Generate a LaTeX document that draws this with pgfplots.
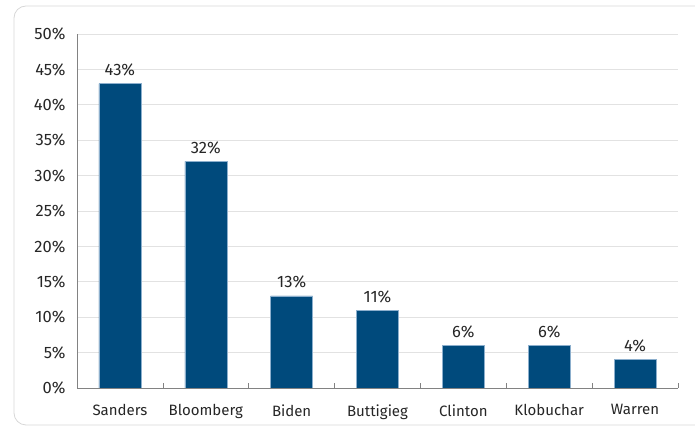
\documentclass[border=0pt]{standalone}
\usepackage{pgfplots}
\pgfplotsset{compat=1.18}
\usepackage{fontspec}
\setmainfont{Fira Sans}
\definecolor{barblue}{RGB}{0,74,124}
\definecolor{baredge}{RGB}{140,175,205}
\definecolor{gridgray}{RGB}{226,226,226}
\definecolor{axisgray}{RGB}{130,130,130}
\definecolor{framegray}{RGB}{215,215,215}
\begin{document}
\begin{tikzpicture}[x=1pt,y=1pt]
\useasboundingbox (0,0) rectangle (695,427);
\begin{scope}
\clip (0,0) rectangle (695,427);
\draw[framegray, line width=0.8pt, rounded corners=12pt] (14,2) rectangle (720,421);
\end{scope}
\begin{axis}[
  at={(77pt,39pt)}, anchor=south west,
  scale only axis, width=601pt, height=354pt,
  ymin=0, ymax=50, xmin=-0.5, xmax=6.5,
  ytick={0,5,...,50},
  yticklabel={\pgfmathprintnumber{\tick}\%},
  /pgf/number format/assume math mode=true,
  xtick={0,...,6},
  xticklabels={Sanders,Bloomberg,Biden,Buttigieg,Clinton,Klobuchar,Warren},
  extra x ticks={-0.5,0.5,1.5,2.5,3.5,4.5,5.5,6.5},
  extra x tick labels={},
  extra x tick style={major tick length=5pt, tick align=inside, tick style={axisgray, line width=0.6pt}},
  major tick length=0pt,
  ymajorgrids, grid style={gridgray, line width=0.8pt},
  axis x line*=bottom, axis y line*=left,
  axis line style={axisgray, line width=0.6pt, -},
  xticklabel style={font=\fontsize{15}{18}\selectfont, text=black!85, yshift=-13pt},
  yticklabel style={font=\fontsize{16.5}{19}\selectfont, text=black!85, xshift=-8pt},
  ybar, bar width=42pt,
  nodes near coords={\pgfmathprintnumber{\pgfplotspointmeta}\%},
  nodes near coords style={font=\fontsize{16.5}{19}\selectfont, text=black!85, yshift=4pt},
]
\addplot[fill=barblue, draw=baredge, line width=0.5pt] coordinates {
  (0,43) (1,32) (2,13) (3,11) (4,6) (5,6) (6,4)
};
\end{axis}
\end{tikzpicture}
\end{document}
